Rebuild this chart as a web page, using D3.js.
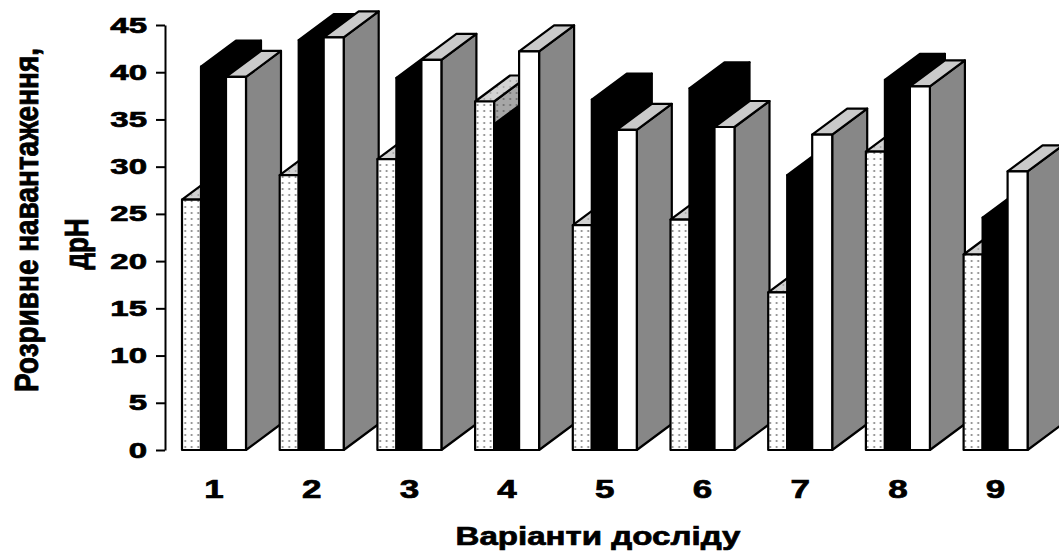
<!DOCTYPE html>
<html>
<head>
<meta charset="utf-8">
<script src="https://cdn.jsdelivr.net/npm/d3@7"></script>
<style>
  body { margin: 0; background: #fff; }
  text { font-family: Arial, "Liberation Sans", sans-serif; font-weight: bold; fill: #000; stroke: #000; stroke-width: 0.7px; }
</style>
</head>
<body>
<div id="chart"></div>
<script>
// data
const categories = ["1", "2", "3", "4", "5", "6", "7", "8", "9"];
const dottedValues = [26.5, 29.1, 30.8, 36.9, 23.8, 24.4, 16.7, 31.6, 20.7];
const blackValues = [40.6, 43.4, 39.4, 34.5, 37.1, 38.3, 29.1, 39.2, 24.6];
const whiteValues = [39.5, 43.7, 41.3, 42.2, 33.9, 34.2, 33.4, 38.5, 29.5];
const yTicks = [0, 5, 10, 15, 20, 25, 30, 35, 40, 45];

const width = 1059, height = 556;
const depthX = 35, depthY = 26;   // 3d offset of the bar depth

const svg = d3.select("#chart").append("svg")
    .attr("width", width)
    .attr("height", height);

const defs = svg.append("defs");
// dotted fill for the first series
function dotPattern(id, bg, dot, r) {
    const p = defs.append("pattern")
        .attr("id", id)
        .attr("patternUnits", "userSpaceOnUse")
        .attr("width", 6.5).attr("height", 6);
    p.append("rect").attr("width", 6.5).attr("height", 6).attr("fill", bg);
    p.append("circle").attr("cx", 3.2).attr("cy", 3).attr("r", r).attr("fill", dot);
}
dotPattern("dots", "#fff", "#7a7a7a", 1);
dotPattern("dotsSide", "#a6a6a6", "#666", 1);
dotPattern("dotsTop", "#d2d2d2", "#888", 0.8);

// scales
const x = d3.scaleBand()
    .domain(categories)
    .range([182, 182 + 9 * 97.7])
    .padding(0);

const y = d3.scaleLinear()
    .domain([0, 45])
    .range([450, 25]);

// series in draw order (left to right inside a group)
const series = [
    { values: dottedValues, front: "url(#dots)", top: "url(#dotsTop)", side: "url(#dotsSide)", offset: 0, w: 19 },
    { values: blackValues, front: "#000", top: "#000", side: "#000", offset: 19, w: 25 },
    { values: whiteValues, front: "#fff", top: "#cacaca", side: "#878787", offset: 44, w: 20 }
];

const bars = svg.append("g");

categories.forEach((c, i) => {
    series.forEach(s => {
        const xl = x(c) + s.offset;
        const xr = xl + s.w;
        const yt = y(s.values[i]);
        const y0 = y(0);
        const g = bars.append("g")
            .attr("stroke", "#000")
            .attr("stroke-width", 2.2)
            .attr("stroke-linejoin", "round");

        // side face
        g.append("polygon")
            .attr("points", [[xr, y0], [xr + depthX, y0 - depthY], [xr + depthX, yt - depthY], [xr, yt]].join(" "))
            .attr("fill", s.side);
        // top face
        g.append("polygon")
            .attr("points", [[xl, yt], [xl + depthX, yt - depthY], [xr + depthX, yt - depthY], [xr, yt]].join(" "))
            .attr("fill", s.top);
        // front face
        g.append("rect")
            .attr("x", xl)
            .attr("y", yt)
            .attr("width", s.w)
            .attr("height", y0 - yt)
            .attr("fill", s.front);
    });
});

// y axis
const yAxis = d3.axisLeft(y)
    .tickValues(yTicks)
    .tickSize(9)
    .tickSizeOuter(0);

const ya = svg.append("g")
    .attr("transform", "translate(165,0)")
    .call(yAxis);

ya.select(".domain").attr("stroke-width", 2);
ya.selectAll(".tick line").attr("stroke-width", 2);
ya.selectAll(".tick text")
    .attr("font-size", 22)
    .attr("font-family", null)
    .attr("x", -18 / 1.5)
    .attr("transform", "scale(1.5,1)");

// category labels
svg.append("g")
    .selectAll("text")
    .data(categories)
    .join("text")
    .attr("text-anchor", "middle")
    .attr("font-size", 25)
    .attr("transform", d => "translate(" + (x(d) + 32) + ",498) scale(1.4,1)")
    .text(d => d);

// axis titles
svg.append("text")
    .attr("x", 598)
    .attr("y", 545)
    .attr("text-anchor", "middle")
    .attr("font-size", 26)
    .attr("textLength", 285)
    .attr("lengthAdjust", "spacingAndGlyphs")
    .text("Варіанти досліду");

svg.append("text")
    .attr("transform", "translate(27,220) scale(1.25,1) rotate(-90)")
    .attr("text-anchor", "middle")
    .attr("dy", "0.35em")
    .attr("font-size", 26)
    .attr("textLength", 344)
    .attr("lengthAdjust", "spacingAndGlyphs")
    .text("Розривне навантаження,");

svg.append("text")
    .attr("transform", "translate(77,244) scale(1.25,1) rotate(-90)")
    .attr("text-anchor", "middle")
    .attr("dy", "0.35em")
    .attr("font-size", 26)
    .text("дрН");
</script>
</body>
</html>
